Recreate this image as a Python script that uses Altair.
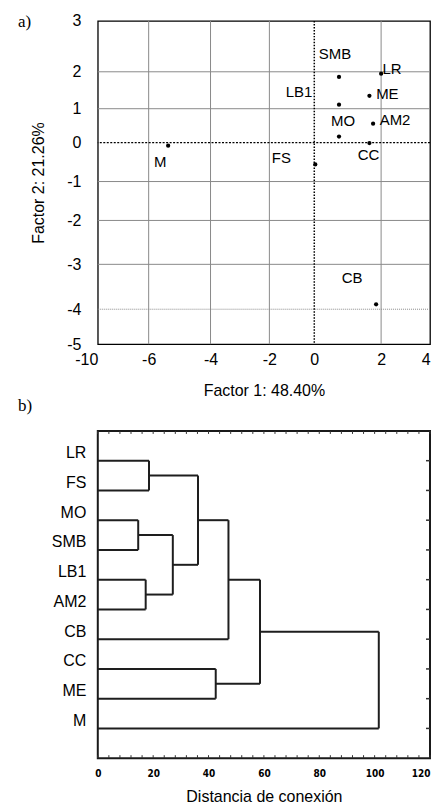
import altair as alt
import pandas as pd

# ---------- Panel a data (factor scores) ----------
names = ["M", "SMB", "LR", "ME", "LB1", "AM2", "MO", "CC", "FS", "CB"]
factor1 = [-5.37, 0.74, 2.0, 1.65, 0.74, 1.76, 0.74, 1.65, 0.03, 1.85]
factor2 = [-0.08, 1.86, 1.95, 1.35, 1.11, 0.56, 0.18, -0.01, -0.56, -3.89]

x_ticks = [-10, -6, -4, -2, 0, 2, 4]
y_ticks = [3, 2, 1, 0, -1, -2, -3, -4, -5]
grid_x_solid = [-6, -4, -2, 2]
grid_y_solid = [2, 1, -1, -2, -3]

# ---------- Panel b data (dendrogram) ----------
leaves = ["LR", "FS", "MO", "SMB", "LB1", "AM2", "CB", "CC", "ME", "M"]
merges = [  # (left, right, linkage distance)
    ("LR", "FS", 18.5),
    ("MO", "SMB", 14.6),
    ("LB1", "AM2", 17.3),
    ("n2", "n3", 27.1),
    ("n1", "n4", 36.2),
    ("n5", "CB", 47.2),
    ("CC", "ME", 42.6),
    ("n6", "n7", 58.6),
    ("n8", "M", 101.5),
]
dist_ticks = [0, 20, 40, 60, 80, 100, 120]
minor_ticks = list(range(0, 121, 4))

# label offsets (style) for panel a
label_offsets = {
    "M": (-8, 16), "SMB": (-4, -23), "LR": (11, -5), "ME": (18, -2),
    "LB1": (-40, -13), "AM2": (22, -4), "MO": (4, -16), "CC": (-1, 12),
    "FS": (-34, -6), "CB": (-24, -26),
}

FONT = "Liberation Sans"
W_A, H_A = 333, 324
W_B, H_B = 333, 328

pts = pd.DataFrame({"name": names, "f1": factor1, "f2": factor2})

xs = alt.Scale(domain=[-10, -6, -4, -2, 0, 2, 4],
               range=[0, 51, 113, 172, 217, 284, 333], nice=False, zero=False)
ys = alt.Scale(domain=[-5, -4, -3, -2, -1, 0, 1, 2, 3],
               range=[324, 289, 244, 200, 161, 122, 88, 51, 0], nice=False, zero=False)

edge_align = alt.condition("datum.value == -10 || datum.value == 4",
                           alt.value("right"), alt.value("center"))

ax_a_x = alt.Axis(values=x_ticks, title="Factor 1: 48.40%", grid=False,
                  ticks=False, domain=False, labelFont=FONT, labelFontSize=16,
                  labelColor="black", labelPadding=7, labelExpr="toString(datum.value)",
                  labelAlign=edge_align, labelOverlap=False,
                  titleFont=FONT, titleFontSize=16, titleFontWeight="normal",
                  titleColor="black", titlePadding=15, labelFlush=False)
ax_a_y = alt.Axis(values=y_ticks, title="Factor 2: 21.26%", grid=False,
                  ticks=False, domain=False, labelFont=FONT, labelFontSize=16,
                  labelColor="black", labelPadding=17, labelExpr="toString(datum.value)",
                  labelOverlap=False, titleFont=FONT,
                  titleFontSize=16, titleFontWeight="normal", titleColor="black",
                  titlePadding=20, labelFlush=False)

base_a = alt.Chart(pts).encode(x=alt.X("f1:Q", scale=xs, axis=ax_a_x),
                               y=alt.Y("f2:Q", scale=ys, axis=ax_a_y))

dots = base_a.mark_circle(color="black", size=18, opacity=1)

gx = alt.Chart(pd.DataFrame({"v": grid_x_solid})).mark_rule(color="#8a8a8a", strokeWidth=1).encode(
    x=alt.X("v:Q", scale=xs, axis=ax_a_x))
gy = alt.Chart(pd.DataFrame({"v": grid_y_solid})).mark_rule(color="#8a8a8a", strokeWidth=1).encode(
    y=alt.Y("v:Q", scale=ys, axis=ax_a_y))
gy4 = alt.Chart(pd.DataFrame({"v": [-4]})).mark_rule(color="#8a8a8a", strokeWidth=1, strokeDash=[1, 1]).encode(
    y=alt.Y("v:Q", scale=ys, axis=ax_a_y))
gy0 = alt.Chart(pd.DataFrame({"v": [0]})).mark_rule(color="black", strokeWidth=1.5, strokeDash=[2, 1.5]).encode(
    y=alt.Y("v:Q", scale=ys, axis=ax_a_y))
gx0 = alt.Chart(pd.DataFrame({"v": [0]})).mark_rule(color="black", strokeWidth=1.5, strokeDash=[1.5, 1.5]).encode(
    x=alt.X("v:Q", scale=xs, axis=ax_a_x))

texts = []
for n in names:
    dx, dy = label_offsets[n]
    texts.append(
        base_a.mark_text(font=FONT, fontSize=15, color="black", dx=dx, dy=dy)
        .encode(text="name:N")
        .transform_filter(alt.datum.name == n)
    )

tag_a = alt.Chart(pd.DataFrame({"t": ["a)"]})).mark_text(
    font="Liberation Serif", fontSize=17, align="left", baseline="middle", color="black"
).encode(text="t:N", x=alt.value(-80), y=alt.value(1))

panel_a = alt.layer(gx, gy, gy4, gy0, gx0, dots, *texts, tag_a).properties(
    width=W_A, height=H_A, view=alt.ViewConfig(stroke="black", strokeWidth=1.3))

# ---------- dendrogram segments ----------
pos = {name: (0.0, float(i)) for i, name in enumerate(leaves)}
segs = []
for k, (a, b, h) in enumerate(merges, start=1):
    ha, ya = pos[a]
    hb, yb = pos[b]
    segs.append({"x": ha, "x2": h, "y": ya, "y2": ya})
    segs.append({"x": hb, "x2": h, "y": yb, "y2": yb})
    segs.append({"x": h, "x2": h, "y": ya, "y2": yb})
    pos[f"n{k}"] = (h, (ya + yb) / 2)
seg_df = pd.DataFrame(segs)

dx_scale = alt.Scale(domain=[0, 120], nice=False, zero=False)
dy_scale = alt.Scale(domain=[-1, 10], reverse=True, nice=False, zero=False)

label_expr = "[" + ",".join(f"'{n}'" for n in leaves) + "][datum.value]"

ax_b_x = alt.Axis(values=dist_ticks, title="Distancia de conexión", grid=False,
                  ticks=False, domain=False,
                  labelFont="Liberation Sans Narrow, DejaVu Sans Condensed, sans-serif",
                  labelFontWeight="bold", labelFontSize=10, labelColor="black",
                  labelPadding=10, labelFlush=False, labelOverlap=False,
                  labelAlign=alt.condition("datum.value == 120", alt.value("right"), alt.value("center")),
                  titleFont=FONT, titleFontSize=16,
                  titleFontWeight="normal", titleColor="black", titlePadding=10)
ax_b_y = alt.Axis(values=list(range(len(leaves))), labelExpr=label_expr, title=None,
                  grid=False, ticks=False, domain=False, labelFont=FONT,
                  labelFontSize=16, labelColor="black", labelPadding=12,
                  labelOffset=-8, labelOverlap=False)

dendro = alt.Chart(seg_df).mark_rule(color="#1e1e1e", strokeWidth=2).encode(
    x=alt.X("x:Q", scale=dx_scale, axis=ax_b_x),
    x2="x2:Q",
    y=alt.Y("y:Q", scale=dy_scale, axis=ax_b_y),
    y2="y2:Q",
)

top_ticks = alt.Chart(pd.DataFrame({"v": minor_ticks})).mark_rule(color="#333", strokeWidth=1).encode(
    x=alt.X("v:Q", scale=dx_scale, axis=ax_b_x), y=alt.value(0), y2=alt.value(3))
bot_ticks = alt.Chart(pd.DataFrame({"v": minor_ticks})).mark_rule(color="#333", strokeWidth=1).encode(
    x=alt.X("v:Q", scale=dx_scale, axis=ax_b_x), y=alt.value(H_B), y2=alt.value(H_B - 3))
right_ticks = alt.Chart(pd.DataFrame({"v": list(range(len(leaves)))})).mark_rule(color="#333", strokeWidth=1.5).encode(
    y=alt.Y("v:Q", scale=dy_scale, axis=ax_b_y), x=alt.value(W_B), x2=alt.value(W_B - 4))

tag_b = alt.Chart(pd.DataFrame({"t": ["b)"]})).mark_text(
    font="Liberation Serif", fontSize=17, align="left", baseline="middle", color="black"
).encode(text="t:N", x=alt.value(-80), y=alt.value(-25))

panel_b = alt.layer(dendro, top_ticks, bot_ticks, right_ticks, tag_b).properties(
    width=W_B, height=H_B, view=alt.ViewConfig(stroke="#1a1a1a", strokeWidth=2))

chart = alt.vconcat(panel_a, panel_b, spacing=-3).properties(
    background="white",
    padding={"left": 9, "top": 3, "right": 0, "bottom": 0},
)

chart.save("out.html", embed_options={"renderer": "svg", "actions": False})
